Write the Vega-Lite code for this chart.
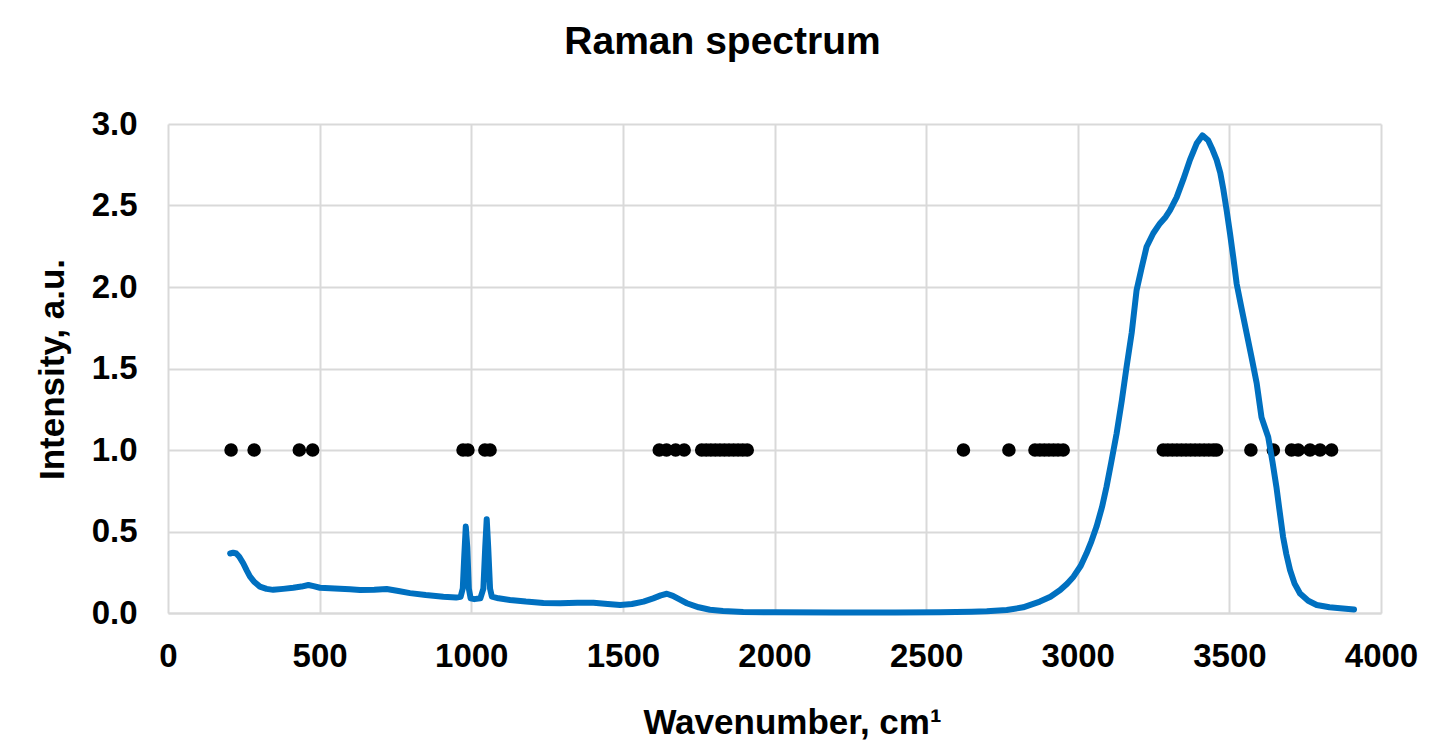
{
  "$schema": "https://vega.github.io/schema/vega-lite/v6.json",
  "width": 1213,
  "height": 489,
  "autosize": {"type": "none"},
  "padding": {"left": 168, "top": 124, "right": 59, "bottom": 140},
  "background": "white",
  "title": {
    "text": "Raman spectrum",
    "font": "Liberation Sans",
    "fontSize": 39,
    "fontWeight": "bold",
    "color": "black",
    "anchor": "middle",
    "dx": -52,
    "baseline": "alphabetic",
    "offset": 15
  },
  "datasets": {
    "spectrum": [
      {"w": 205, "i": 0.365}, {"w": 215, "i": 0.37}, {"w": 225, "i": 0.365}, {"w": 235, "i": 0.345},
      {"w": 248, "i": 0.305}, {"w": 260, "i": 0.26}, {"w": 270, "i": 0.225}, {"w": 285, "i": 0.19},
      {"w": 303, "i": 0.162}, {"w": 325, "i": 0.148}, {"w": 347, "i": 0.142}, {"w": 380, "i": 0.148},
      {"w": 413, "i": 0.155}, {"w": 440, "i": 0.162}, {"w": 463, "i": 0.172}, {"w": 480, "i": 0.165},
      {"w": 501, "i": 0.155}, {"w": 550, "i": 0.15}, {"w": 600, "i": 0.145}, {"w": 633, "i": 0.141},
      {"w": 680, "i": 0.143}, {"w": 721, "i": 0.147}, {"w": 760, "i": 0.135}, {"w": 798, "i": 0.122},
      {"w": 850, "i": 0.11}, {"w": 908, "i": 0.1}, {"w": 950, "i": 0.095}, {"w": 965, "i": 0.1},
      {"w": 972, "i": 0.15}, {"w": 977, "i": 0.35}, {"w": 982, "i": 0.53}, {"w": 987, "i": 0.4},
      {"w": 992, "i": 0.15}, {"w": 998, "i": 0.09}, {"w": 1010, "i": 0.085}, {"w": 1030, "i": 0.09},
      {"w": 1040, "i": 0.15}, {"w": 1046, "i": 0.4}, {"w": 1051, "i": 0.575}, {"w": 1056, "i": 0.4},
      {"w": 1062, "i": 0.15}, {"w": 1068, "i": 0.1}, {"w": 1090, "i": 0.09}, {"w": 1128, "i": 0.08},
      {"w": 1180, "i": 0.07}, {"w": 1238, "i": 0.062}, {"w": 1293, "i": 0.06}, {"w": 1350, "i": 0.063},
      {"w": 1403, "i": 0.063}, {"w": 1450, "i": 0.055}, {"w": 1491, "i": 0.049}, {"w": 1530, "i": 0.055},
      {"w": 1568, "i": 0.07}, {"w": 1600, "i": 0.09}, {"w": 1625, "i": 0.108}, {"w": 1645, "i": 0.118},
      {"w": 1665, "i": 0.105}, {"w": 1690, "i": 0.08}, {"w": 1711, "i": 0.06}, {"w": 1750, "i": 0.035},
      {"w": 1787, "i": 0.02}, {"w": 1830, "i": 0.012}, {"w": 1897, "i": 0.006}, {"w": 2000, "i": 0.004},
      {"w": 2200, "i": 0.003}, {"w": 2400, "i": 0.003}, {"w": 2546, "i": 0.004}, {"w": 2650, "i": 0.008},
      {"w": 2700, "i": 0.011}, {"w": 2766, "i": 0.018}, {"w": 2820, "i": 0.035}, {"w": 2875, "i": 0.07},
      {"w": 2910, "i": 0.1}, {"w": 2942, "i": 0.141}, {"w": 2965, "i": 0.18}, {"w": 2986, "i": 0.223},
      {"w": 3010, "i": 0.29}, {"w": 3029, "i": 0.366}, {"w": 3045, "i": 0.44}, {"w": 3062, "i": 0.53},
      {"w": 3080, "i": 0.65}, {"w": 3095, "i": 0.775}, {"w": 3110, "i": 0.92}, {"w": 3128, "i": 1.1},
      {"w": 3145, "i": 1.3}, {"w": 3161, "i": 1.51}, {"w": 3178, "i": 1.72}, {"w": 3194, "i": 1.98},
      {"w": 3211, "i": 2.12}, {"w": 3227, "i": 2.247}, {"w": 3249, "i": 2.33}, {"w": 3271, "i": 2.39},
      {"w": 3290, "i": 2.43}, {"w": 3304, "i": 2.47}, {"w": 3326, "i": 2.55}, {"w": 3348, "i": 2.66},
      {"w": 3370, "i": 2.78}, {"w": 3392, "i": 2.88}, {"w": 3411, "i": 2.93}, {"w": 3430, "i": 2.9},
      {"w": 3445, "i": 2.84}, {"w": 3458, "i": 2.78}, {"w": 3470, "i": 2.7}, {"w": 3480, "i": 2.6},
      {"w": 3491, "i": 2.47}, {"w": 3502, "i": 2.33}, {"w": 3513, "i": 2.18}, {"w": 3524, "i": 2.02},
      {"w": 3540, "i": 1.87}, {"w": 3557, "i": 1.716}, {"w": 3574, "i": 1.56}, {"w": 3590, "i": 1.41},
      {"w": 3606, "i": 1.2}, {"w": 3617, "i": 1.14}, {"w": 3628, "i": 1.08}, {"w": 3642, "i": 0.93},
      {"w": 3655, "i": 0.775}, {"w": 3666, "i": 0.62}, {"w": 3677, "i": 0.468}, {"w": 3688, "i": 0.36},
      {"w": 3700, "i": 0.264}, {"w": 3715, "i": 0.18}, {"w": 3733, "i": 0.12}, {"w": 3760, "i": 0.075},
      {"w": 3788, "i": 0.049}, {"w": 3830, "i": 0.035}, {"w": 3865, "i": 0.029}, {"w": 3911, "i": 0.022}
    ],
    "peaks": [
      {"w": 208, "i": 1}, {"w": 284, "i": 1}, {"w": 433, "i": 1}, {"w": 477, "i": 1},
      {"w": 973, "i": 1}, {"w": 989, "i": 1}, {"w": 1045, "i": 1}, {"w": 1062, "i": 1},
      {"w": 1620, "i": 1}, {"w": 1644, "i": 1}, {"w": 1674, "i": 1}, {"w": 1702, "i": 1},
      {"w": 1760, "i": 1}, {"w": 1775, "i": 1}, {"w": 1790, "i": 1}, {"w": 1805, "i": 1},
      {"w": 1820, "i": 1}, {"w": 1835, "i": 1}, {"w": 1850, "i": 1}, {"w": 1865, "i": 1},
      {"w": 1880, "i": 1}, {"w": 1895, "i": 1}, {"w": 1910, "i": 1},
      {"w": 2623, "i": 1}, {"w": 2773, "i": 1}, {"w": 2859, "i": 1}, {"w": 2875, "i": 1},
      {"w": 2890, "i": 1}, {"w": 2905, "i": 1}, {"w": 2920, "i": 1}, {"w": 2935, "i": 1},
      {"w": 2952, "i": 1},
      {"w": 3282, "i": 1}, {"w": 3297, "i": 1}, {"w": 3312, "i": 1}, {"w": 3327, "i": 1},
      {"w": 3342, "i": 1}, {"w": 3357, "i": 1}, {"w": 3372, "i": 1}, {"w": 3387, "i": 1},
      {"w": 3402, "i": 1}, {"w": 3417, "i": 1}, {"w": 3432, "i": 1}, {"w": 3447, "i": 1},
      {"w": 3458, "i": 1}, {"w": 3571, "i": 1}, {"w": 3645, "i": 1}, {"w": 3705, "i": 1},
      {"w": 3727, "i": 1}, {"w": 3766, "i": 1}, {"w": 3799, "i": 1}, {"w": 3837, "i": 1}
    ]
  },
  "encoding": {
    "x": {
      "field": "w",
      "type": "quantitative",
      "scale": {"domain": [0, 4000], "nice": false},
      "axis": {
        "values": [0, 500, 1000, 1500, 2000, 2500, 3000, 3500, 4000],
        "format": "d",
        "title": "Wavenumber, cm¹",
        "titleX": 624,
        "titleY": 120,
        "titleBaseline": "alphabetic",
        "titleAlign": "center",
        "labelPadding": 27,
        "labelBaseline": "top"
      }
    },
    "y": {
      "field": "i",
      "type": "quantitative",
      "scale": {"domain": [0, 3], "nice": false},
      "axis": {
        "values": [0, 0.5, 1, 1.5, 2, 2.5, 3],
        "format": ".1f",
        "title": "Intensity, a.u.",
        "titleX": -105,
        "titleY": 245,
        "titleAngle": -90,
        "titleBaseline": "alphabetic",
        "titleAlign": "center",
        "labelPadding": 31,
        "domain": false
      }
    }
  },
  "layer": [
    {
      "data": {"name": "peaks"},
      "mark": {"type": "point", "filled": true, "shape": "circle", "size": 185, "color": "black", "opacity": 1}
    },
    {
      "data": {"name": "spectrum"},
      "mark": {"type": "line", "color": "#0070C0", "strokeWidth": 6, "strokeJoin": "round", "strokeCap": "round"}
    }
  ],
  "config": {
    "view": {"stroke": null},
    "font": "Liberation Sans",
    "axis": {
      "labelFont": "Liberation Sans",
      "labelFontSize": 33,
      "labelFontWeight": "bold",
      "labelColor": "black",
      "titleFont": "Liberation Sans",
      "titleFontSize": 35,
      "titleFontWeight": "bold",
      "titleColor": "black",
      "ticks": false,
      "grid": true,
      "gridColor": "#d9d9d9",
      "gridWidth": 2,
      "domainColor": "#d9d9d9",
      "domainWidth": 2,
      "labelOverlap": false,
      "labelFlush": false
    }
  }
}
